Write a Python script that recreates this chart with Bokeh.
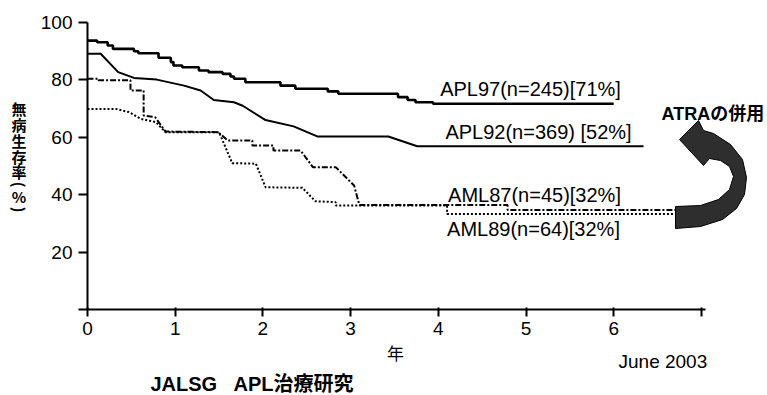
import math
from bokeh.plotting import figure
from bokeh.models import Label, Range1d, FixedTicker
from bokeh.embed import file_html
from bokeh.resources import INLINE

# ---------------- data ----------------
years_apl97 = [0, 0.11, 0.23, 0.29, 0.53, 0.58, 0.81, 0.95, 0.98, 1.08, 1.27, 1.38, 1.54,
               1.63, 1.67, 1.80, 2.20, 2.37, 2.74, 2.86, 3.54, 3.65, 3.74, 3.94, 6.00]
dfs_apl97 = [93.7, 93.1, 92.0, 90.8, 90.0, 89.3, 87.7, 86.2, 85.0, 84.4, 83.3, 82.7, 82.1,
             81.2, 80.4, 79.2, 78.0, 76.9, 76.0, 75.2, 74.0, 73.0, 72.2, 71.7, 71.7]

years_apl92 = [0, 0.15, 0.35, 0.53, 0.79, 1.10, 1.29, 1.44, 1.67, 1.77, 2.03, 2.35, 2.62, 3.43, 3.76, 6.34]
dfs_apl92 = [89.1, 89.1, 82.7, 80.7, 80.1, 78.0, 76.3, 73.0, 72.2, 71.0, 66.0, 63.8, 60.3, 60.3, 56.9, 56.9]

years_aml87 = [0, 0.125, 0.125, 0.49, 0.49, 0.64, 0.64, 0.77, 0.89, 1.49, 1.60, 1.88, 1.88,
               2.12, 2.12, 2.43, 2.57, 2.83, 3.04, 3.10, 4.79, 4.79, 6.74]
dfs_aml87 = [80.4, 80.4, 79.9, 79.9, 76.3, 76.3, 67.6, 67.0, 62.0, 61.8, 58.9, 58.9, 57.1,
             57.1, 55.4, 55.4, 49.6, 49.6, 43.2, 36.4, 36.4, 34.7, 34.7]

years_aml89 = [0, 0.32, 0.47, 0.61, 0.78, 0.89, 1.50, 1.65, 1.92, 2.03, 2.45, 2.60, 2.83, 2.83,
               4.10, 4.10, 6.72]
dfs_aml89 = [69.9, 69.9, 68.8, 66.4, 65.3, 61.8, 61.8, 51.0, 50.8, 42.6, 42.4, 37.7, 37.4, 36.2,
             36.2, 33.3, 33.3]

series_labels = ["APL97(n=245)[71%]", "APL92(n=369) [52%]", "AML87(n=45)[32%]", "AML89(n=64)[32%]"]
x_ticks = [0, 1, 2, 3, 4, 5, 6, 7]
x_tick_labels = ["0", "1", "2", "3", "4", "5", "6", ""]
y_ticks = [0, 20, 40, 60, 80, 100]
y_tick_labels = ["", "20", "40", "60", "80", "100"]
ylabel_chars = ["無", "病", "生", "存", "率", "(", "%", ")"]
xlabel_text = "年"
date_text = "June 2003"
title_parts = ["JALSG", "APL治療研究"]
atra_text = "ATRAの併用"

# ---------------- layout helpers (pixel -> data) ----------------
W, H = 767, 395
X0, Y0 = 87, 309          # pixel position of (0 years, 0 %)
PX_PER_YEAR = 87.7
PX_PER_PCT = 2.87


def dx(px):
    return (px - X0) / PX_PER_YEAR


def dy(py):
    return (Y0 - py) / PX_PER_PCT


p = figure(width=W, height=H, output_backend="svg", toolbar_location=None,
           x_range=Range1d(dx(0), dx(W)), y_range=Range1d(dy(H), dy(0)),
           min_border_left=0, min_border_right=0, min_border_top=0, min_border_bottom=0)
p.outline_line_color = None
p.xgrid.grid_line_color = None
p.ygrid.grid_line_color = None
p.background_fill_color = "white"
p.border_fill_color = "white"

TICK_FONT = "Liberation Sans"
LAB_FONT = "'Liberation Sans', 'Noto Sans CJK JP'"
CJK_FONT = "'Noto Sans CJK JP'"

xa = p.xaxis[0]
xa.fixed_location = 0
xa.ticker = FixedTicker(ticks=x_ticks)
xa.major_label_overrides = {t: l for t, l in zip(x_ticks, x_tick_labels)}
xa.bounds = (0, 7.05)
xa.axis_line_width = 2
xa.major_tick_line_width = 2
xa.major_tick_out = 7
xa.major_tick_in = 2
xa.minor_tick_line_color = None
xa.major_label_standoff = 5
xa.major_label_text_font = TICK_FONT
xa.major_label_text_font_size = "19px"
xa.major_label_text_color = "black"

ya = p.yaxis[0]
ya.fixed_location = 0
ya.ticker = FixedTicker(ticks=y_ticks)
ya.major_label_overrides = {t: l for t, l in zip(y_ticks, y_tick_labels)}
ya.bounds = (0, 100)
ya.axis_line_width = 2
ya.major_tick_line_width = 2
ya.major_tick_out = 9
ya.major_tick_in = 0
ya.minor_tick_line_color = None
ya.major_label_standoff = 6
ya.major_label_text_font = TICK_FONT
ya.major_label_text_font_size = "19px"
ya.major_label_text_color = "black"

# ---------------- curves ----------------
p.step(years_apl97, dfs_apl97, mode="after", line_color="black", line_width=2.6)
p.line(years_apl92, dfs_apl92, line_color="black", line_width=2.0)
p.line(years_aml87, dfs_aml87, line_color="black", line_width=2.0, line_dash="6 2 2 2")
p.line(years_aml89, dfs_aml89, line_color="black", line_width=2.0, line_dash="2 2")

# ---------------- curved arrow (decoration) ----------------
arrow_px = [(679, 139), (698, 120), (703, 130), (713, 133), (730, 144), (742, 159), (746, 177),
            (744, 194), (736, 208), (722, 219), (700, 226), (675, 228), (675, 206), (700, 205),
            (718, 199), (729, 189), (733, 176), (729, 166), (720, 160), (709, 158), (703, 165)]
p.patch([dx(a) for a, b in arrow_px], [dy(b) for a, b in arrow_px],
        fill_color="#2e2e2e", line_color="black", line_width=1)

# ---------------- texts ----------------
label_pos = [(530, 88), (538, 131), (534, 194.5), (533, 228)]
for txt, (cx, by) in zip(series_labels, label_pos):
    p.add_layout(Label(x=dx(cx), y=dy(by), text=txt, text_align="center",
                       text_baseline="alphabetic", text_font=LAB_FONT,
                       text_font_size="20px", text_color="black"))

p.add_layout(Label(x=dx(661), y=dy(113), text=atra_text, text_align="left",
                   text_baseline="alphabetic", text_font=LAB_FONT, text_font_style="bold",
                   text_font_size="18px", text_color="black"))

# y-axis label, stacked vertically
ych = [108, 124, 140, 155.5, 171, 184, 196, 209]
for ch, cy in zip(ylabel_chars, ych):
    rot = -math.pi / 2 if ch in "()" else 0
    p.add_layout(Label(x=dx(18.5), y=dy(cy), text=ch, text_align="center",
                       text_baseline="middle", angle=rot,
                       text_font=CJK_FONT, text_font_style="bold", text_font_size="15px",
                       text_color="black"))

p.add_layout(Label(x=dx(395), y=dy(352), text=xlabel_text, text_align="center",
                   text_baseline="middle", text_font=CJK_FONT,
                   text_font_size="17px", text_color="black"))

p.add_layout(Label(x=dx(618), y=dy(361), text=date_text, text_align="left",
                   text_baseline="alphabetic", text_font=TICK_FONT,
                   text_font_size="19px", text_color="black"))

for txt, left in zip(title_parts, [150, 233]):
    p.add_layout(Label(x=dx(left), y=dy(383), text=txt, text_align="left",
                       text_baseline="alphabetic", text_font=LAB_FONT, text_font_style="bold",
                       text_font_size="20px", text_color="black"))

open("out.html", "w").write(file_html(p, INLINE))
